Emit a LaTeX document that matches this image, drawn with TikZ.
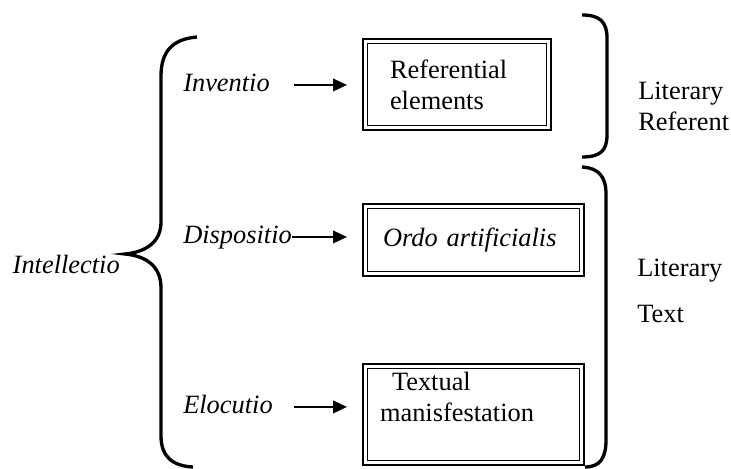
\documentclass[tikz,border=0pt]{standalone}
\usepackage{fontspec}
\setmainfont{Liberation Serif}
\usetikzlibrary{arrows.meta}

\tikzset{
  term/.style={inner sep=0pt, font=\itshape},
  side/.style={inner sep=0pt, align=left},
  dbox/.style={draw, line width=1.8pt, inner ysep=0pt, outer sep=0pt, align=left, anchor=north west},
  arr/.style={line width=1.2pt, -{Triangle[length=10.5pt,width=9.5pt]}},
  brace/.style={line width=2.5pt}
}

\begin{document}
\fontsize{19.8}{23.3}\selectfont
\begin{tikzpicture}[x=0.75pt,y=0.75pt,yscale=-1,xscale=1]
	\useasboundingbox (0,0) rectangle (731,468);
	% the three boxes
	\node[dbox, text width=100.5pt, inner xsep=20.25pt, minimum height=68.25pt] (box1) at (363,39) {Referential\\elements};
	\node[dbox, text width=135.75pt, inner xsep=15pt, minimum height=54pt, font=\itshape] (box2) at (363,204) {Ordo artificialis};
	\node[dbox, text width=140.25pt, inner xsep=12.75pt, inner ysep=6pt, text depth=50pt] (box3) at (363,364) {\hspace*{9pt}Textual\\manisfestation};
	\foreach \b in {box1,box2,box3}
		\draw[line width=1.1pt] ([shift={(4.3,4.3)}]\b.north west) rectangle ([shift={(-4.3,-4.3)}]\b.south east);
	% operations
	\node[term, anchor=base west] (inv) at (183,91) {Inventio};
	\node[term, anchor=base west] (disp) at (183,243) {Dispositio};
	\node[term, anchor=base east] (intel) at (120,273) {Intellectio};
	\node[term, anchor=base west] (eloc) at (183,413) {Elocutio};
	\node[side, anchor=north west] (litref) at (638,82) {Literary\\Referent};
	\node[side, anchor=north west] (littext) at (637,259) {Literary\\[11pt]Text};
	\draw[arr, shorten <=18pt, shorten >=12pt] (inv.mid east) -- (inv.mid east -| box1.west);
	\draw[arr, shorten >=12pt] (disp.mid east) -- (disp.mid east -| box2.west);
	\draw[arr, shorten <=15.75pt, shorten >=12pt] (eloc.mid east) -- (eloc.mid east -| box3.west);
	% braces
	\draw[brace] (197,37) .. controls (172,39) and (161,52) .. (161,76) -- (161,222) .. controls (161,242) and (146,252) .. (125,254) .. controls (146,256) and (161,266) .. (161,288) -- (161,436) .. controls (161,456) and (172,466) .. (193,467);
	\draw[brace] (582,15) .. controls (600,15) and (607,22) .. (607,38) -- (607,135) .. controls (607,151) and (600,157) .. (582,157);
	\draw[brace] (582,167) .. controls (599,168) and (606,177) .. (606,194) -- (606,440) .. controls (606,458) and (600,467) .. (585,467);
\end{tikzpicture}
\end{document}
